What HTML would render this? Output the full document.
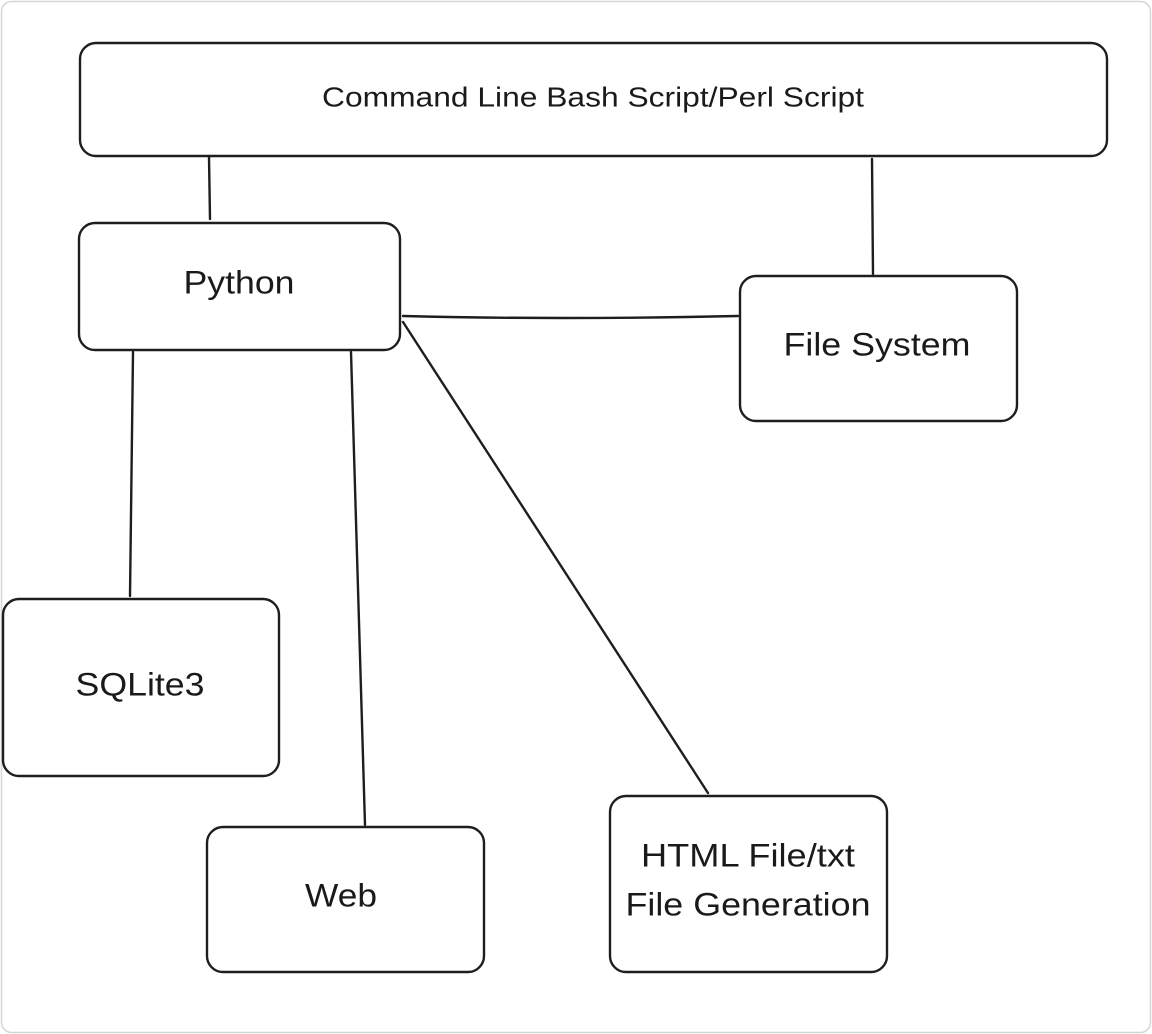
<!DOCTYPE html>
<html><head><meta charset="utf-8"><style>
html,body{margin:0;padding:0;background:#fff;}
svg{display:block}
text{font-family:"Liberation Sans",sans-serif;fill:#1a1a1a;text-anchor:middle;dominant-baseline:middle}
</style></head><body>
<svg width="1152" height="1034" viewBox="0 0 1152 1034">
<rect x="1.5" y="1.5" width="1149" height="1031" rx="10" fill="#fff" stroke="#d6d6d6" stroke-width="1.5"/>
<g fill="none" stroke="#1e1e1e" stroke-width="2.4" stroke-linecap="round">
<rect x="80" y="43" width="1027" height="113" rx="16"/>
<rect x="79" y="223" width="321" height="127" rx="16"/>
<rect x="740" y="276" width="277" height="145" rx="16"/>
<rect x="3" y="599" width="276" height="177" rx="16"/>
<rect x="207" y="827" width="277" height="145" rx="16"/>
<rect x="610" y="796" width="277" height="176" rx="16"/>
<path d="M209 157 L210 219"/>
<path d="M872 159 L873 274"/>
<path d="M403 316 Q560 320 738 316"/>
<path d="M133 352 L130 596"/>
<path d="M351 352 L365 825"/>
<path d="M403 322 L708 793"/>
</g>
<text x="593" y="99" font-size="28" textLength="542" lengthAdjust="spacingAndGlyphs">Command Line Bash Script/Perl Script</text>
<text x="239" y="285" font-size="32" textLength="111" lengthAdjust="spacingAndGlyphs">Python</text>
<text x="877" y="347" font-size="32" textLength="187" lengthAdjust="spacingAndGlyphs">File System</text>
<text x="140" y="687" font-size="32" textLength="129" lengthAdjust="spacingAndGlyphs">SQLite3</text>
<text x="341" y="898" font-size="32" textLength="72" lengthAdjust="spacingAndGlyphs">Web</text>
<text x="748" y="858" font-size="32" textLength="214" lengthAdjust="spacingAndGlyphs">HTML File/txt</text>
<text x="748" y="907" font-size="32" textLength="245" lengthAdjust="spacingAndGlyphs">File Generation</text>
</svg>
</body></html>
